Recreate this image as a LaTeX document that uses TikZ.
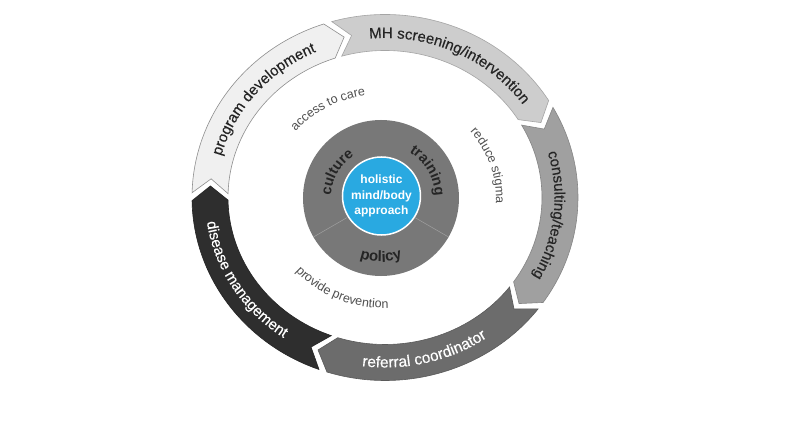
\documentclass[tikz,border=0pt]{standalone}
\usepackage{fontspec}
\setmainfont{Liberation Sans}
\newfontfamily\ringfont[FakeBold=0.35]{Liberation Sans}
\usetikzlibrary{decorations.text}
\definecolor{progfill}{HTML}{F0F0F0}
\definecolor{progdraw}{HTML}{8E8E8E}
\definecolor{mhfill}{HTML}{CDCDCD}
\definecolor{mhdraw}{HTML}{A5A5A5}
\definecolor{consfill}{HTML}{A0A0A0}
\definecolor{consdraw}{HTML}{858585}
\definecolor{reffill}{HTML}{6C6C6C}
\definecolor{refdraw}{HTML}{5A5A5A}
\definecolor{disfill}{HTML}{2E2E2E}
\definecolor{disdraw}{HTML}{242424}
\definecolor{diskgray}{HTML}{787878}
\definecolor{holblue}{HTML}{29A9E1}
\definecolor{darktext}{HTML}{252525}
\definecolor{labeltext}{HTML}{505050}
\definecolor{divline}{HTML}{A0A0A0}

\newcommand\rsgap{2.5}
\newcommand\rsd{5}
% #1 ccw-end boundary angle, #2 tip angle, #3 fill, #4 draw
\newcommand\ringseg[4]{%
  \pgfmathsetmacro\rsA{#1-\rsgap+\rsd}%
  \pgfmathsetmacro\rsN{#1-\rsgap}%
  \pgfmathsetmacro\rsE{#2+\rsd}%
  \path[segstyle, fill=#3, draw=#4]
    (\rsA:193pt and 183pt) arc[start angle=\rsA, end angle=\rsE, x radius=193pt, y radius=183pt]
    -- (#2:175pt and 165pt)
    -- (\rsE:157pt and 147pt) arc[start angle=\rsE, end angle=\rsA, x radius=157pt, y radius=147pt]
    -- (\rsN:175pt and 165pt) -- cycle;
}
% #1 start, #2 end, #3 rx, #4 ry, #5 format, #6 color, #7 text
\newcommand\arctext[7]{%
  \path[decorate, decoration={text along path, text color=#6,
      text={|#5|#7}, text align=center}]
    (#1:#3pt and #4pt) arc[start angle=#1, end angle=#2, x radius=#3pt, y radius=#4pt];
}

\begin{document}
\begin{tikzpicture}[x=1pt,y=1pt,
  segstyle/.style={line width=0.6pt, line join=miter}]
\useasboundingbox (-385,-244.5) rectangle (419,197.5);
\fill[white] (-385,-244.5) rectangle (419,197.5);

% outer ring arrows
\ringseg{176}{103.5}{progfill}{progdraw}
\ringseg{103.5}{27}{mhfill}{mhdraw}
\ringseg{27}{-40}{consfill}{consdraw}
\ringseg{-40}{-112.5}{reffill}{refdraw}
\ringseg{-112.5}{-184}{disfill}{disdraw}

% ring texts
\arctext{176}{103.5}{169.5}{159.5}{\ringfont\fontsize{15}{18}\selectfont}{darktext}{program development}
\arctext{103.5}{27}{169.5}{159.5}{\ringfont\fontsize{15}{18}\selectfont}{darktext}{MH screening/intervention}
\arctext{27}{-40}{169.5}{159.5}{\ringfont\fontsize{15}{18}\selectfont}{darktext}{consulting/teaching}
\arctext{-112.5}{-40}{180}{170}{\ringfont\fontsize{15.5}{18}\selectfont}{white}{referral coordinator}
\arctext{176}{247.5}{180}{170}{\ringfont\fontsize{15}{18}\selectfont}{white}{disease management}

% white-area labels
\begin{scope}[shift={(-2,-0.5)}]
\arctext{150}{90}{113}{104}{\fontsize{12.5}{15}\selectfont}{labeltext}{access to care}
\arctext{50}{-14}{113}{104}{\fontsize{12.5}{15}\selectfont}{labeltext}{reduce stigma}
\arctext{-150}{-76}{117}{110}{\fontsize{12.5}{15}\selectfont}{labeltext}{provide prevention}
\end{scope}

% inner disk
\begin{scope}[shift={(-4,-0.5)}]
\fill[diskgray] (0,0) circle[radius=78];
\draw[divline, line width=0.5pt] (210:39) -- (210:78);
\draw[divline, line width=0.5pt] (330:39) -- (330:78);
\arctext{195}{105}{50}{50}{\fontsize{14.5}{17}\selectfont\bfseries}{darktext}{culture}
\arctext{75}{-15}{54}{54}{\fontsize{14.5}{17}\selectfont\bfseries}{darktext}{training}
\arctext{-140}{-40}{64}{64}{\fontsize{15}{18}\selectfont\bfseries}{darktext}{policy}
\node[circle, fill=holblue, draw=white, line width=1.5pt, minimum size=78pt, inner sep=0pt,
      text=white, align=center, font=\fontsize{12}{15.5}\selectfont\bfseries] (hol) at (0.5,2)
  {holistic\\mind/body\\approach};
\end{scope}
\end{tikzpicture}
\end{document}
